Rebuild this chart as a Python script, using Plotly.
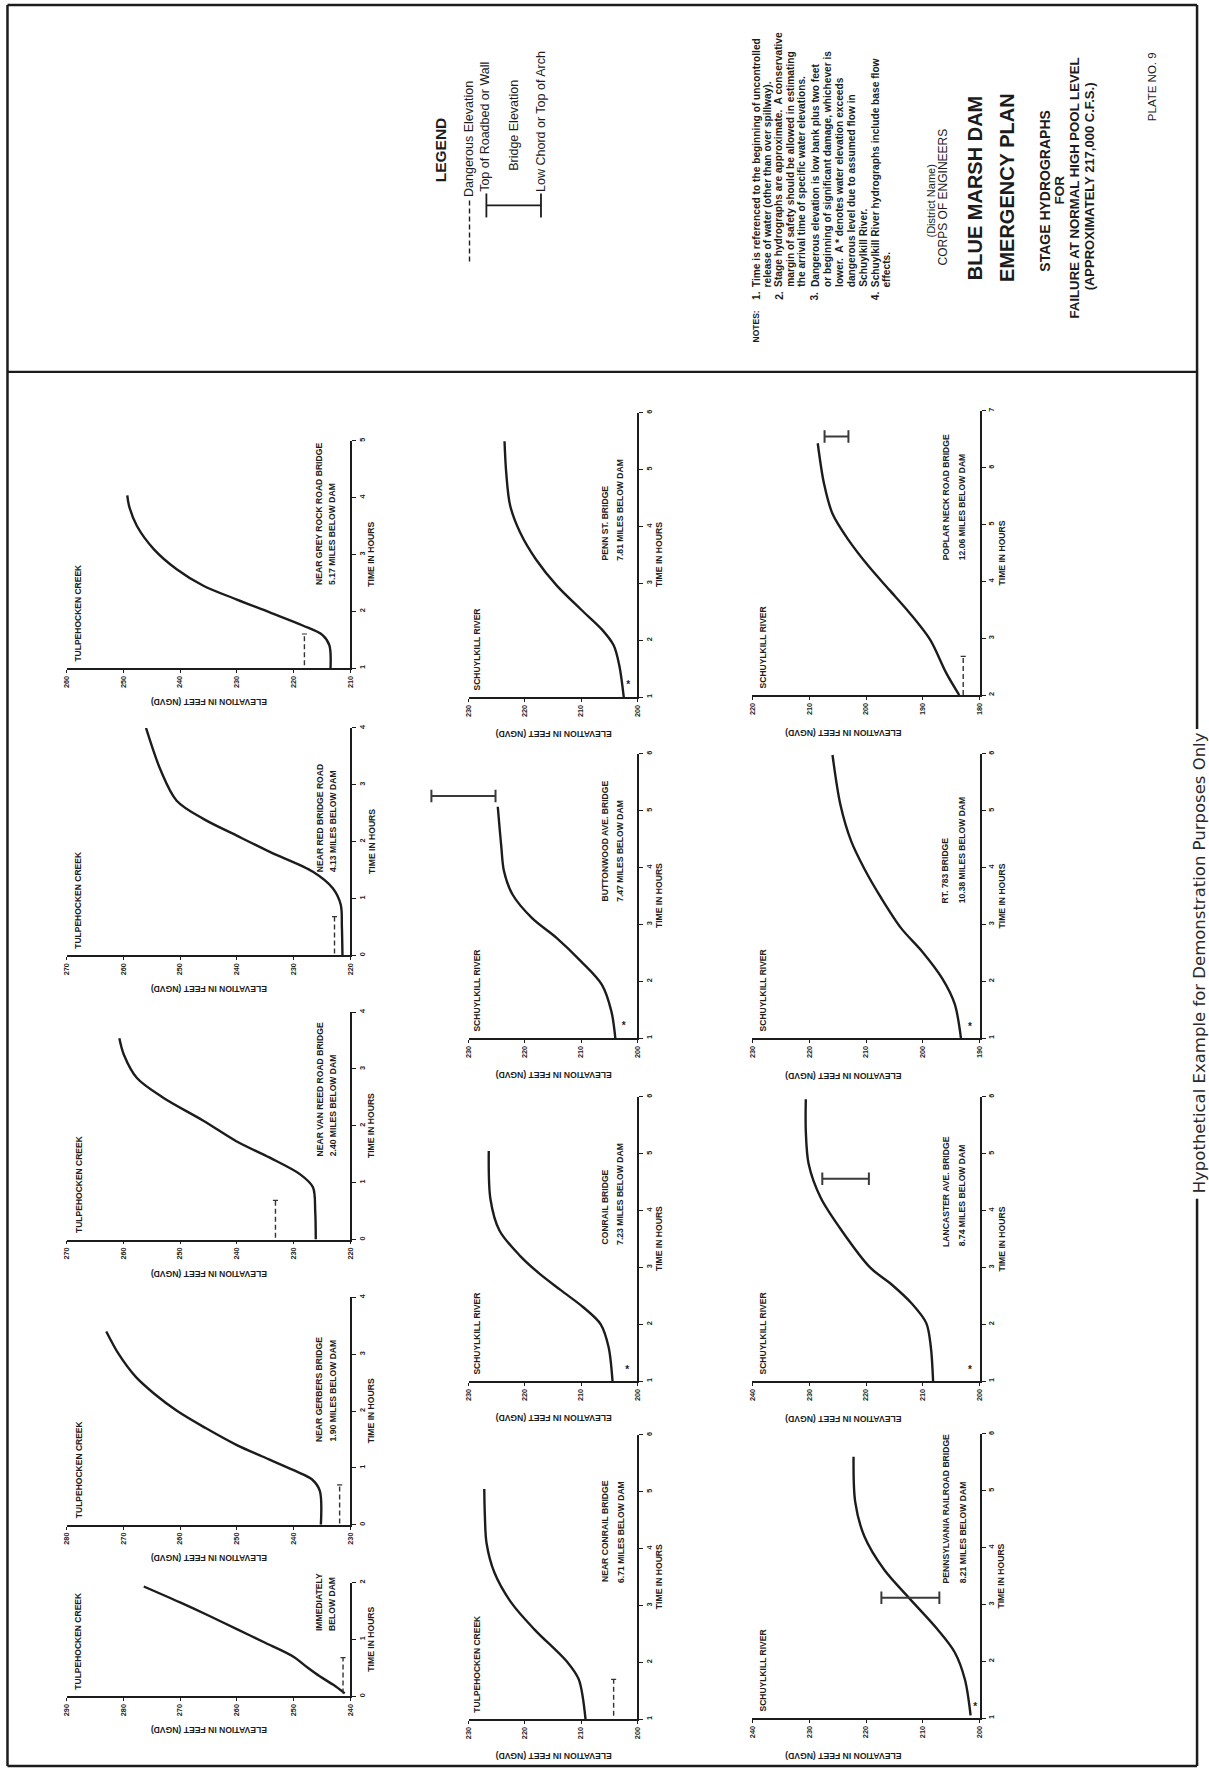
import plotly.graph_objects as go

W, H = 1209, 1775
INK = "#1c1c1c"
FONT = "Liberation Sans, Arial, Helvetica, sans-serif"

# ---------------------------------------------------------------- data
RIVERS = ["TULPEHOCKEN CREEK"] * 6 + ["SCHUYLKILL RIVER"] * 7
STATION_NAMES = [
    "IMMEDIATELY", "NEAR GERBERS BRIDGE", "NEAR VAN REED ROAD BRIDGE",
    "NEAR RED BRIDGE ROAD", "NEAR GREY ROCK ROAD BRIDGE", "NEAR CONRAIL BRIDGE",
    "CONRAIL BRIDGE", "BUTTONWOOD AVE. BRIDGE", "PENN ST. BRIDGE",
    "PENNSYLVANIA RAILROAD BRIDGE", "LANCASTER AVE. BRIDGE", "RT. 783 BRIDGE",
    "POPLAR NECK ROAD BRIDGE",
]
STATION_MILES = [
    "BELOW DAM", "1.90 MILES BELOW DAM", "2.40 MILES BELOW DAM",
    "4.13 MILES BELOW DAM", "5.17 MILES BELOW DAM", "6.71 MILES BELOW DAM",
    "7.23 MILES BELOW DAM", "7.47 MILES BELOW DAM", "7.81 MILES BELOW DAM",
    "8.21 MILES BELOW DAM", "8.74 MILES BELOW DAM", "10.38 MILES BELOW DAM",
    "12.06 MILES BELOW DAM",
]
ELEV_RANGES = [(240, 290), (230, 280), (220, 270), (220, 270), (210, 260),
               (200, 230), (200, 230), (200, 230), (200, 230),
               (200, 240), (200, 240), (190, 230), (180, 220)]
TIME_RANGES = [(0, 2), (0, 4), (0, 4), (0, 4), (1, 5),
               (1, 6), (1, 6), (1, 6), (1, 6),
               (1, 6), (1, 6), (1, 6), (2, 7)]

# stage hydrographs: time in hours, elevation in feet (NGVD)
BELOW_DAM_T = [0.05, 0.2, 0.35, 0.5, 0.7, 0.95, 1.18, 1.42, 1.65, 1.93]
BELOW_DAM_E = [241.0, 243.0, 245.4, 247.5, 250.1, 255.2, 260.0, 265.0, 270.0, 276.4]
GERBERS_T = [0.0, 0.6, 0.8, 0.95, 1.2, 1.4, 1.7, 2.0, 2.3, 2.6, 3.0, 3.4]
GERBERS_E = [235.2, 235.4, 236.8, 239.8, 245.5, 250.0, 255.5, 260.5, 264.5, 267.8, 270.8, 273.0]
VANREED_T = [0.0, 0.5, 0.92, 1.15, 1.44, 1.73, 2.09, 2.49, 2.84, 3.25, 3.54]
VANREED_E = [226.1, 226.2, 226.6, 228.9, 234.2, 240.1, 245.9, 252.9, 257.6, 259.9, 260.7]
REDBRIDGE_T = [0.0, 0.5, 0.89, 1.18, 1.47, 1.82, 2.11, 2.4, 2.72, 3.25, 4.0]
REDBRIDGE_E = [221.4, 221.5, 221.7, 223.1, 226.6, 234.2, 240.1, 245.9, 250.6, 253.4, 256.0]
GREYROCK_T = [1.0, 1.4, 1.58, 1.75, 1.98, 2.21, 2.45, 2.74, 3.09, 3.5, 3.86, 4.04]
GREYROCK_E = [213.5, 213.7, 214.9, 218.4, 224.2, 230.1, 235.9, 240.6, 244.6, 247.6, 249.0, 249.3]
NEARCONRAIL_T = [1.0, 1.7, 2.0, 2.58, 3.05, 3.58, 4.1, 4.6, 5.05]
NEARCONRAIL_E = [209.2, 210.4, 212.4, 218.3, 222.4, 225.4, 226.8, 227.1, 227.2]
CONRAIL_T = [1.0, 1.6, 2.0, 2.3, 2.6, 2.9, 3.2, 3.65, 4.2, 5.05]
CONRAIL_E = [204.4, 205.1, 206.5, 209.6, 213.6, 217.5, 220.8, 224.5, 226.1, 226.4]
BUTTONWOOD_T = [1.0, 1.47, 1.94, 2.35, 2.76, 3.11, 3.53, 3.94, 4.4, 5.07]
BUTTONWOOD_E = [203.9, 204.6, 206.3, 210.0, 214.3, 218.7, 222.2, 223.7, 224.2, 224.8]
PENNST_T = [1.0, 1.56, 1.91, 2.19, 2.54, 2.96, 3.42, 3.89, 4.37, 4.95, 5.5]
PENNST_E = [202.4, 203.2, 204.2, 206.3, 210.0, 214.3, 218.0, 220.8, 222.6, 223.3, 223.6]
PRR_T = [1.05, 1.68, 2.16, 2.56, 3.09, 3.61, 4.2, 4.8, 5.6]
PRR_E = [201.6, 202.6, 204.4, 207.4, 212.2, 216.8, 220.3, 221.9, 222.2]
LANCASTER_T = [1.0, 1.6, 2.02, 2.37, 2.7, 3.0, 3.65, 4.23, 4.82, 5.4, 5.96]
LANCASTER_E = [208.2, 208.6, 209.4, 212.0, 215.5, 219.3, 224.3, 228.0, 230.1, 230.6, 230.6]
RT783_T = [1.0, 1.6, 2.05, 2.52, 2.93, 3.46, 3.98, 4.46, 5.1, 5.98]
RT783_E = [193.3, 194.4, 196.6, 200.1, 203.8, 207.3, 210.3, 212.6, 214.5, 215.9]
POPLAR_T = [2.0, 2.39, 2.97, 3.44, 3.85, 4.26, 4.73, 5.19, 5.72, 6.43]
POPLAR_E = [183.6, 185.9, 188.7, 192.3, 195.9, 199.5, 203.1, 205.9, 207.4, 208.5]

CURVES_T = [BELOW_DAM_T, GERBERS_T, VANREED_T, REDBRIDGE_T, GREYROCK_T, NEARCONRAIL_T,
            CONRAIL_T, BUTTONWOOD_T, PENNST_T, PRR_T, LANCASTER_T, RT783_T, POPLAR_T]
CURVES_E = [BELOW_DAM_E, GERBERS_E, VANREED_E, REDBRIDGE_E, GREYROCK_E, NEARCONRAIL_E,
            CONRAIL_E, BUTTONWOOD_E, PENNST_E, PRR_E, LANCASTER_E, RT783_E, POPLAR_E]

# dangerous elevation (elevation, start time, end time); None = not shown
DANGER_ELEV = [241.3, 231.9, 233.2, 222.8, 218.1, 204.2, None, None, None, None, None, None, 182.9]
DANGER_T0 = [0.05, 0.02, 0.03, 0.03, 1.05, 1.06, None, None, None, None, None, None, 2.0]
DANGER_T1 = [0.68, 0.70, 0.69, 0.68, 1.60, 1.70, None, None, None, None, None, None, 2.68]

# bridge elevation bars (time, low chord, top of roadbed)
BRIDGE_T = [None, None, None, None, None, None, None, 5.26, None, 3.12, 4.56, None, 6.55]
BRIDGE_LOW = [None, None, None, None, None, None, None, 225.2, None, 207.1, 219.5, None, 203.1]
BRIDGE_TOP = [None, None, None, None, None, None, None, 236.6, None, 217.3, 227.7, None, 207.3]

# "*" marks (time, elevation)
STAR_T = [None, None, None, None, None, None, 1.19, 1.2, 1.2, 1.19, 1.19, 1.18, None]
STAR_E = [None, None, None, None, None, None, 201.8, 202.4, 201.6, 200.8, 201.7, 191.7, None]

# ---------------------------------------------------------------- layout geometry (pixels)
PANEL_COL = [0, 0, 0, 0, 0, 1, 1, 1, 1, 2, 2, 2, 2]
PANEL_BASE_Y = [1697, 1525, 1239, 954, 666, 1720, 1381, 1037, 695, 1719, 1381, 1037, 693]
PX_PER_HOUR = 57
COLS = [
    dict(xL=62, xR=348, river_x=74, st_x=(317, 330), st_off=82, time_x=369, et_x=205, et_off=34),
    dict(xL=467, xR=637, river_x=476, st_x=(604, 620), st_off=136, time_x=659, et_x=553, et_off=37),
    dict(xL=753, xR=982, river_x=764, st_x=(948, 965), st_off=134, time_x=1004, et_x=845, et_off=38),
]


def px2x(px):
    return px / W


def px2y(py):
    return 1 - py / H


annotations = []
shapes = []


def ann(x, y, text, size, angle=-90, xa="center", ya="bottom", bold=True, family=FONT, color=INK):
    annotations.append(dict(
        x=px2x(x), y=px2y(y), xref="paper", yref="paper", text=text, showarrow=False,
        textangle=angle, xanchor=xa, yanchor=ya, borderpad=0,
        font=dict(family=family, size=size, color=color, weight="bold" if bold else "normal")))


def line(x0, y0, x1, y1, width=2.0, dash=None, color=INK):
    shapes.append(dict(type="line", xref="paper", yref="paper",
                       x0=px2x(x0), y0=px2y(y0), x1=px2x(x1), y1=px2y(y1),
                       line=dict(color=color, width=width, dash=dash)))


fig = go.Figure()
layout_axes = {}
tickfont = dict(family=FONT, size=7.3, color=INK, weight="bold")
extra = 14

for k in range(13):
    n = k + 1
    c = COLS[PANEL_COL[k]]
    emin, emax = ELEV_RANGES[k]
    t0, t1 = TIME_RANGES[k]
    yB = PANEL_BASE_Y[k]
    yT = yB - PX_PER_HOUR * (t1 - t0)
    layout_axes[f"xaxis{n}"] = dict(
        domain=[c["xL"] / W, c["xR"] / W], range=[emax, emin], anchor=f"y{n}",
        tickmode="array", tickvals=list(range(emin, emax + 1, 10)),
        ticks="outside", ticklen=3, tickwidth=1.2, tickcolor=INK,
        showline=True, linecolor=INK, linewidth=1.8, tickangle=-90, tickfont=tickfont,
        showgrid=False, zeroline=False, fixedrange=True)
    layout_axes[f"yaxis{n}"] = dict(
        domain=[px2y(yB), px2y(yT)], range=[t0, t1], anchor=f"x{n}", side="right",
        tickmode="array", tickvals=list(range(t0, t1 + 1)),
        ticks="outside", ticklen=4, tickwidth=1.2, tickcolor=INK,
        showline=True, linecolor=INK, linewidth=1.8, tickangle=-90, tickfont=tickfont,
        showgrid=False, zeroline=False, fixedrange=True)

    # hydrograph
    fig.add_trace(go.Scatter(x=CURVES_E[k], y=CURVES_T[k], mode="lines", xaxis=f"x{n}", yaxis=f"y{n}",
                             line=dict(color=INK, width=2.4, shape="spline", smoothing=0.9),
                             hoverinfo="skip"))
    # dangerous elevation
    if DANGER_ELEV[k] is not None:
        de = DANGER_ELEV[k]
        fig.add_trace(go.Scatter(x=[de, de], y=[DANGER_T0[k], DANGER_T1[k]], mode="lines",
                                 xaxis=f"x{n}", yaxis=f"y{n}",
                                 line=dict(color="#333", width=1.4, dash="5px,3px"), hoverinfo="skip"))
        fig.add_trace(go.Scatter(x=[de - 0.45, de + 0.45], y=[DANGER_T1[k], DANGER_T1[k]], mode="lines",
                                 xaxis=f"x{n}", yaxis=f"y{n}",
                                 line=dict(color="#333", width=1.2), hoverinfo="skip"))
    # "*" mark
    if STAR_T[k] is not None:
        fig.add_trace(go.Scatter(x=[STAR_E[k]], y=[STAR_T[k]], mode="text", text=["*"],
                                 textfont=dict(family=FONT, size=10, color=INK, weight="bold"),
                                 xaxis=f"x{n}", yaxis=f"y{n}", cliponaxis=False, hoverinfo="skip"))
    # bridge elevation bar (on a hidden, extended twin so it may pass the axis end)
    if BRIDGE_T[k] is not None:
        ppf = (c["xR"] - c["xL"]) / (emax - emin)
        m = extra
        extra += 1
        layout_axes[f"xaxis{m}"] = dict(domain=[(c["xL"] - 10 * ppf) / W, c["xR"] / W],
                                        range=[emax + 10, emin], anchor=f"y{m}", visible=False,
                                        fixedrange=True)
        layout_axes[f"yaxis{m}"] = dict(domain=[px2y(yB), px2y(yT)], range=[t0, t1], anchor=f"x{m}",
                                        visible=False, fixedrange=True)
        bt, lo, hi = BRIDGE_T[k], BRIDGE_LOW[k], BRIDGE_TOP[k]
        cap = 0.11
        fig.add_trace(go.Scatter(
            x=[lo, hi, None, lo, lo, None, hi, hi],
            y=[bt, bt, None, bt - cap, bt + cap, None, bt - cap, bt + cap],
            mode="lines", xaxis=f"x{m}", yaxis=f"y{m}",
            line=dict(color="#3a3a3a", width=2.0), hoverinfo="skip"))

    # panel texts
    ann(c["river_x"], yB - 6, RIVERS[k], 8.5)
    off = 64 if k == 0 else c["st_off"]
    ann(c["st_x"][0], yB - off, STATION_NAMES[k], 8.6)
    ann(c["st_x"][1], yB - off, STATION_MILES[k], 8.6)
    ann(c["time_x"], (yB + yT) / 2, "TIME IN HOURS", 8.6, ya="middle")
    ann(c["et_x"], yB + c["et_off"], "ELEVATION IN FEET (NGVD)", 8.6, angle=180, ya="middle")

# ---------------------------------------------------------------- page frame
line(2.5, 1, 1201, 1, 2.5)
line(2.5, 1, 2.5, 1767, 2.5)
line(2.5, 1767, 1201, 1767, 2.5)
line(1201, 1, 1201, 727, 2.5)
line(1201, 1198, 1201, 1767, 2.5)
line(2.5, 369, 1201, 369, 2.2)
ann(1203, 962, "Hypothetical Example for Demonstration Purposes Only", 16.5, ya="middle",
    bold=False, family="DejaVu Sans", color="#2a2a2a")

# ---------------------------------------------------------------- legend
ann(439, 146, "LEGEND", 15.5, ya="middle")
line(468, 197, 468, 261, 1.4, dash="5px,3px")
ann(468, 195, "Dangerous Elevation", 12.5, bold=False)
line(485, 190, 485, 214, 1.8)
line(540, 190, 540, 214, 1.8)
line(485, 202, 540, 202, 1.8)
ann(484, 189, "Top of Roadbed or Wall", 12.5, bold=False)
ann(512, 122, "Bridge Elevation", 12.5, ya="middle", bold=False)
ann(540, 189, "Low Chord or Top of Arch", 12.5, bold=False)

# ---------------------------------------------------------------- notes
NOTE_X = [757, 768, 780, 792, 803, 816, 828, 840, 853, 865, 877, 888]
NOTE_TEXT = [
    "Time is referenced to the beginning of uncontrolled",
    "release of water (other than over spillway).",
    "Stage hydrographs are approximate.  A conservative",
    "margin of safety should be allowed in estimating",
    "the arrival time of specific water elevations.",
    "Dangerous elevation is low bank plus two feet",
    "or beginning of significant damage, whichever is",
    "lower.  A * denotes water elevation exceeds",
    "dangerous level due to assumed flow in",
    "Schuylkill River.",
    "Schuylkill River hydrographs include base flow",
    "effects.",
]
NOTE_NUM = {0: "1.", 2: "2.", 5: "3.", 10: "4."}
ann(NOTE_X[0], 340, "NOTES:", 8.5)
for i, (x, txt) in enumerate(zip(NOTE_X, NOTE_TEXT)):
    if i in NOTE_NUM:
        ann(x, 298, NOTE_NUM[i], 10.2)
    ann(x, 285, txt, 10.2)

# ---------------------------------------------------------------- title block
ann(933, 198, "(District Name)", 11, ya="middle", bold=False)
ann(945, 193, "CORPS OF ENGINEERS", 12, ya="middle", bold=False)
ann(978, 185, "BLUE MARSH DAM", 20, ya="middle")
ann(1010, 184, "EMERGENCY PLAN", 20, ya="middle")
ann(1048, 187, "STAGE HYDROGRAPHS", 14, ya="middle")
ann(1062, 187, "FOR", 13.5, ya="middle")
ann(1078, 184, "FAILURE AT NORMAL HIGH POOL LEVEL", 13.2, ya="middle")
ann(1093, 183, "(APPROXIMATELY 217,000 C.F.S.)", 13, ya="middle")
ann(1155, 83, "PLATE NO. 9", 11.5, ya="middle", bold=False)

fig.update_layout(
    width=W, height=H, margin=dict(l=0, r=0, t=0, b=0),
    paper_bgcolor="white", plot_bgcolor="rgba(0,0,0,0)",
    showlegend=False, annotations=annotations, shapes=shapes,
    **layout_axes,
)

fig.write_html("out.html", config={"displayModeBar": False},
               post_script="document.body.style.margin='0px';")
